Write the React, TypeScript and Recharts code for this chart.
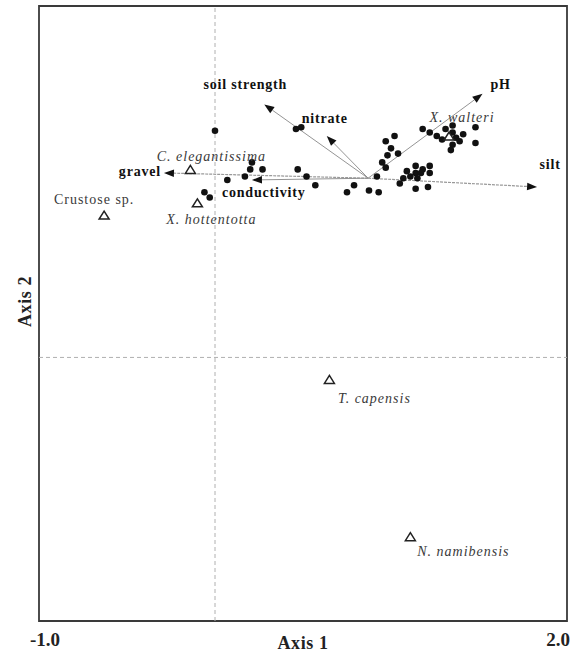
import React from 'react';
import { ScatterChart, Scatter, XAxis, YAxis, ReferenceLine, ReferenceArea } from 'recharts';

// site scores (axis 1, axis 2)
const siteX = [
  0.0, 0.21, 0.2, 0.27, 0.17, 0.07, 0.47, 0.52, 0.57, 0.46, 0.49, -0.06, -0.03,
  0.79, 0.75, 0.875, 0.93, 0.92, 0.97, 1.02, 1.0, 0.98, 1.04, 0.95, 0.97,
  1.09, 1.14, 1.18, 1.22, 1.07, 1.11, 1.14, 1.17, 1.15, 1.22, 1.05, 1.14, 1.21,
  1.18, 1.22, 1.26, 1.29, 1.31, 1.35, 1.35, 1.37, 1.39, 1.41, 1.35, 1.34, 1.48, 1.48,
];
const siteY = [
  1.29, 1.11, 1.07, 1.07, 1.03, 1.01, 1.07, 1.03, 0.98, 1.3, 1.31, 0.94, 0.91,
  0.98, 0.94, 0.95, 0.94, 1.03, 1.23, 1.26, 1.19, 1.15, 1.16, 1.11, 1.08,
  1.06, 1.09, 1.07, 1.09, 1.02, 1.03, 1.05, 1.05, 1.02, 1.05, 0.99, 0.96, 0.97,
  1.3, 1.28, 1.26, 1.24, 1.3, 1.32, 1.28, 1.25, 1.23, 1.27, 1.21, 1.18, 1.31, 1.22,
];

// species scores
const speciesNames = ['C. elegantissima', 'Crustose sp.', 'X. hottentotta', 'X. walteri', 'T. capensis', 'N. namibensis'];
const speciesX = [-0.14, -0.63, -0.1, 1.33, 0.65, 1.11];
const speciesY = [1.07, 0.81, 0.88, 1.26, -0.125, -1.02];

// environmental vectors
const envNames = ['pH', 'silt', 'nitrate', 'soil strength', 'gravel', 'conductivity'];
const envOriginX = 0.87;
const envOriginY = 1.02;
const envX = [1.52, 1.83, 0.635, 0.28, -0.29, 0.21];
const envY = [1.5, 0.97, 1.26, 1.44, 1.05, 1.01];

const sites = siteX.map((x, i) => ({ x, y: siteY[i] }));
const species = speciesNames.map((name, i) => ({ name, x: speciesX[i], y: speciesY[i] }));

// label placement (pixels from the mark)
const speciesLabel: { [k: string]: { dx: number; dy: number; italic: boolean } } = {
  'C. elegantissima': { dx: 21, dy: -13, italic: true },
  'Crustose sp.': { dx: -10, dy: -16, italic: false },
  'X. hottentotta': { dx: 14, dy: 17, italic: true },
  'X. walteri': { dx: 13, dy: -19, italic: true },
  'T. capensis': { dx: 45, dy: 19, italic: true },
  'N. namibensis': { dx: 53, dy: 15, italic: true },
};
const envLabel: { [k: string]: { dx: number; dy: number; anchor: string; dotted?: boolean } } = {
  pH: { dx: 18, dy: -9, anchor: 'middle' },
  silt: { dx: 13, dy: -22, anchor: 'middle', dotted: true },
  nitrate: { dx: -2, dy: -18, anchor: 'middle' },
  'soil strength': { dx: -19, dy: -20, anchor: 'middle' },
  gravel: { dx: -3, dy: -1, anchor: 'end', dotted: true },
  conductivity: { dx: -30, dy: 13, anchor: 'start' },
};

const FONT = '"Liberation Serif", "Times New Roman", serif';

const Dot = (props: any) => <circle cx={props.cx} cy={props.cy} r={3.3} fill="#111" />;

const SpeciesMark = (props: any) => {
  const { cx, cy, payload } = props;
  const lab = speciesLabel[payload.name];
  const h = 8;
  const w = 10;
  return (
    <g>
      <path
        d={`M${cx} ${cy - h / 2} L${cx + w / 2} ${cy + h / 2} L${cx - w / 2} ${cy + h / 2} Z`}
        fill="none"
        stroke="#222"
        strokeWidth={1.5}
      />
      <text
        x={cx + lab.dx}
        y={cy + lab.dy}
        textAnchor="middle"
        dominantBaseline="central"
        fontFamily={FONT}
        fontSize={14}
        fontStyle={lab.italic ? 'italic' : 'normal'}
        letterSpacing={1}
        fill="#3a3a3a"
      >
        {payload.name}
      </text>
    </g>
  );
};

const makeArrow = (name: string) => (props: any) => {
  const { x1, y1, x2, y2 } = props;
  const lab = envLabel[name];
  const ang = Math.atan2(y2 - y1, x2 - x1);
  const len = 10;
  const half = 3.8;
  const bx = x2 - len * Math.cos(ang);
  const by = y2 - len * Math.sin(ang);
  const px = -Math.sin(ang) * half;
  const py = Math.cos(ang) * half;
  return (
    <g>
      <line
        x1={x1}
        y1={y1}
        x2={bx}
        y2={by}
        stroke={lab.dotted ? '#999' : '#888'}
        strokeWidth={lab.dotted ? 1.2 : 0.9}
        strokeDasharray={lab.dotted ? '3 1' : undefined}
      />
      <path d={`M${x2} ${y2} L${bx + px} ${by + py} L${bx - px} ${by - py} Z`} fill="#111" />
      <text
        x={x2 + lab.dx}
        y={y2 + lab.dy}
        textAnchor={lab.anchor as any}
        dominantBaseline="central"
        fontFamily={FONT}
        fontSize={14}
        fontWeight="bold"
        letterSpacing={0.8}
        fill="#111"
      >
        {name}
      </text>
    </g>
  );
};

const XTick = (props: any) => {
  const { x, y, payload } = props;
  const dx = payload.value < 0 ? 6 : -9;
  return (
    <text x={x + dx} y={y + 17} textAnchor="middle" fontFamily={FONT} fontSize={19} fontWeight="bold" fill="#222">
      {payload.value.toFixed(1)}
    </text>
  );
};

const YTick = (props: any) => {
  const { x, y, payload } = props;
  return (
    <text x={x + 7} y={y + 20} textAnchor="end" fontFamily={FONT} fontSize={19} fontWeight="bold" fill="#222">
      {payload.value.toFixed(1)}
    </text>
  );
};

const XTitle = (props: any) => {
  const vb = props.viewBox;
  return (
    <text
      x={vb.x + vb.width / 2}
      y={vb.y + 28}
      textAnchor="middle"
      fontFamily={FONT}
      fontSize={18}
      fontWeight="bold"
      letterSpacing={0.6}
      fill="#222"
    >
      Axis 1
    </text>
  );
};

const YTitle = (props: any) => {
  const vb = props.viewBox;
  const cx = vb.x + 25;
  const cy = vb.y + vb.height / 2 - 12;
  return (
    <text
      x={cx}
      y={cy}
      transform={`rotate(-90 ${cx} ${cy})`}
      textAnchor="middle"
      dominantBaseline="central"
      fontFamily={FONT}
      fontSize={18}
      fontWeight="bold"
      letterSpacing={0.6}
      fill="#222"
    >
      Axis 2
    </text>
  );
};

export default function App() {
  return (
    <div style={{ position: 'absolute', left: 0, top: 0, background: '#fff' }}>
      <ScatterChart width={574} height={656} margin={{ top: 6, right: 7, bottom: 0, left: 0 }}>
        <XAxis
          type="number"
          dataKey="x"
          domain={[-1, 2]}
          ticks={[-1, 2]}
          allowDataOverflow
          height={35}
          axisLine={false}
          tickLine={false}
          tick={<XTick />}
          label={<XTitle />}
        />
        <YAxis
          type="number"
          dataKey="y"
          domain={[-1.5, 2]}
          ticks={[2]}
          allowDataOverflow
          width={39}
          axisLine={false}
          tickLine={false}
          tick={<YTick />}
          label={<YTitle />}
        />
        <ReferenceLine x={0} stroke="#b0b0b0" strokeDasharray="4 3" />
        <ReferenceLine y={0} stroke="#b0b0b0" strokeDasharray="4 3" />
        <ReferenceArea x1={-1} x2={2} y1={-1.5} y2={2} fill="none" stroke="#3a3a3a" strokeWidth={1.8} />
        {envNames.map((name, i) => (
          <ReferenceLine
            key={name}
            segment={[
              { x: envOriginX, y: envOriginY },
              { x: envX[i], y: envY[i] },
            ]}
            shape={makeArrow(name)}
          />
        ))}
        <Scatter data={sites} shape={<Dot />} isAnimationActive={false} />
        <Scatter data={species} shape={<SpeciesMark />} isAnimationActive={false} />
      </ScatterChart>
    </div>
  );
}
